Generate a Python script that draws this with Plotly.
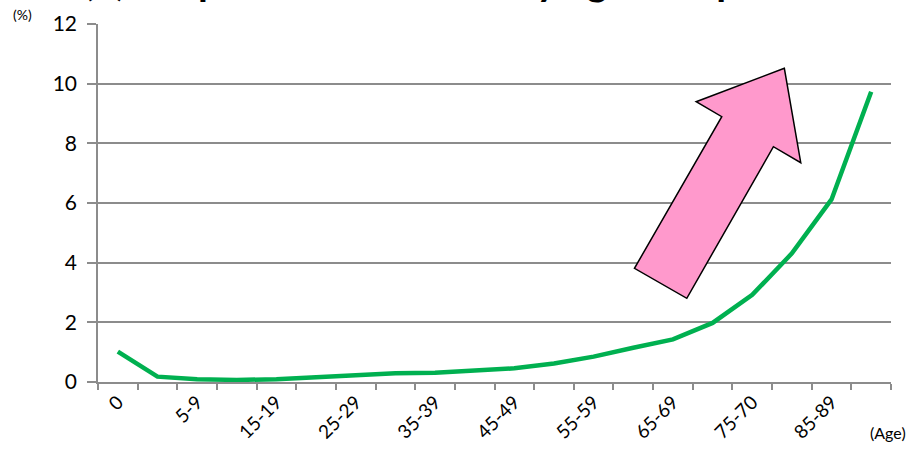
import plotly.graph_objects as go

categories = ["0", "1-4", "5-9", "10-14", "15-19", "20-24", "25-29", "30-34", "35-39", "40-44",
              "45-49", "50-54", "55-59", "60-64", "65-69", "70-74", "75-70", "80-84", "85-89", "90+"]
values = [1.02, 0.18, 0.09, 0.07, 0.09, 0.15, 0.22, 0.29, 0.31, 0.37,
          0.46, 0.62, 0.85, 1.15, 1.43, 1.98, 2.92, 4.31, 6.12, 9.73]
tick_labels = [c if i % 2 == 0 else "" for i, c in enumerate(categories)]
y_ticks = [0, 2, 4, 6, 8, 10, 12]
title_text = "(b) Proportion of deaths by age in Japan"

FONT = "Lato"
GRID = "#8c8c8c"

fig = go.Figure()
fig.add_trace(go.Scatter(
    x=categories, y=values, mode="lines",
    line=dict(color="#00B050", width=4.5),
    hoverinfo="x+y", showlegend=False,
))

# arrow (paper coordinates)
arrow = [(0.8655, 0.8763), (0.7543, 0.7830), (0.7866, 0.7411), (0.6765, 0.3176),
         (0.7425, 0.2338), (0.8517, 0.6573), (0.8862, 0.6126)]
path = "M " + " L ".join(f"{x},{y}" for x, y in arrow) + " Z"
fig.add_shape(type="path", path=path, xref="paper", yref="paper",
              fillcolor="#FF99CC", line=dict(color="black", width=1.5), layer="above")

fig.update_layout(
    width=910, height=452,
    margin=dict(l=97.5, r=19, t=24, b=70),
    paper_bgcolor="white", plot_bgcolor="white",
    font=dict(family=FONT, color="black"),
    annotations=[
        dict(text="<b>" + title_text + "</b>", xref="paper", yref="paper",
             x=0, xshift=-97.5 + 80, y=1, yshift=44, yanchor="middle", xanchor="left",
             showarrow=False, font=dict(size=40, family=FONT, color="black")),
        dict(text="(%)", xref="paper", yref="paper", x=0, xshift=-97.5 + 10,
             y=1, yshift=-1, xanchor="left", yanchor="bottom", showarrow=False,
             font=dict(size=14, family=FONT)),
        dict(text="(Age)", xref="paper", yref="paper", x=1, xshift=17,
             y=0, yshift=-50, xanchor="right", yanchor="middle", showarrow=False,
             font=dict(size=16, family=FONT)),
    ],
)

fig.update_xaxes(
    type="category", range=[-0.5, 19.5], automargin=False,
    tickmode="array", tickvals=categories, ticktext=tick_labels,
    tickangle=-45, tickfont=dict(size=19, family=FONT),
    tickson="boundaries", ticks="outside", ticklen=6, tickcolor=GRID, tickwidth=1.5,
    showline=True, linecolor=GRID, linewidth=1.5,
    showgrid=False, zeroline=False,
)
fig.update_yaxes(
    range=[0, 12], tickvals=y_ticks, automargin=False,
    tickfont=dict(size=21, family=FONT),
    ticks="outside", ticklen=9, tickcolor=GRID, tickwidth=1.5,
    ticklabelstandoff=6,
    showline=True, linecolor=GRID, linewidth=1.5,
    showgrid=True, gridcolor=GRID, gridwidth=1.5,
    zeroline=False,
)

fig.write_html("out.html")
